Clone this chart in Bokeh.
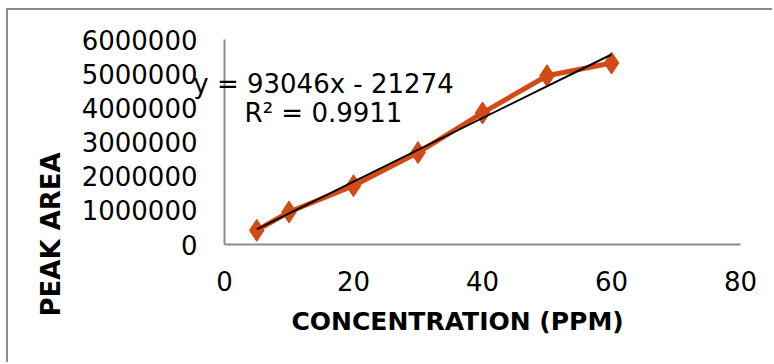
from bokeh.plotting import figure
from bokeh.models import Range1d, Label, FixedTicker, Title, NumeralTickFormatter
from bokeh.embed import file_html
from bokeh.resources import INLINE

# Data
concentration = [5, 10, 20, 30, 40, 50, 60]
peak_area = [414000, 950000, 1720000, 2690000, 3850000, 4940000, 5310000]
slope = 93046
intercept = -21274
r_squared = 0.9911
x_ticks = [0, 20, 40, 60, 80]
y_ticks = [0, 1000000, 2000000, 3000000, 4000000, 5000000, 6000000]
x_title = "CONCENTRATION (PPM)"
y_title = "PEAK AREA"

ORANGE = "#d24a15"
AXIS = "#8c8c8c"
FONT = "DejaVu Sans"

# page pixel mapping: x data 0 -> 224, 80 -> 740 ; y data 0 -> 244, 6e6 -> 39
def px_to_x(px):
    return (px - 224) * 80 / 516.0

def px_to_y(py):
    return (244 - py) * 6000000 / 205.0

# frame spans page x 74..766 and page y 20..300 so the axes' labels sit inside it
p = figure(width=766, height=354, output_backend="svg", toolbar_location=None,
           x_range=Range1d(px_to_x(74), px_to_x(766)),
           y_range=Range1d(px_to_y(300), px_to_y(20)),
           min_border_left=66, min_border_right=8, min_border_top=10, min_border_bottom=64)
p.styles = {"margin-left": "6px", "margin-top": "8px",
            "border-left": "2px solid " + AXIS, "border-top": "2px solid " + AXIS}
p.outline_line_color = None
p.grid.grid_line_color = None
p.background_fill_color = "white"
p.border_fill_color = "white"

for ax in (p.xaxis[0], p.yaxis[0]):
    ax.axis_line_color = AXIS
    ax.axis_line_width = 2
    ax.major_tick_line_color = None
    ax.minor_tick_line_color = None
    ax.major_label_text_font = FONT
    ax.major_label_text_font_size = "26px"
    ax.major_label_text_color = "black"

p.xaxis.ticker = FixedTicker(ticks=x_ticks)
p.xaxis.bounds = (0, 80)
p.xaxis.fixed_location = 0
p.xaxis.major_label_standoff = 20
p.yaxis.ticker = FixedTicker(ticks=y_ticks)
p.yaxis.formatter = NumeralTickFormatter(format="0")
p.yaxis.bounds = (0, 6000000)
p.yaxis.fixed_location = 0
p.yaxis.major_label_standoff = 21

# Series
p.line(concentration, peak_area, line_color=ORANGE, line_width=5)
p.scatter(concentration, peak_area, marker="diamond", size=22, fill_color=ORANGE,
          line_color=ORANGE)

# Linear trendline
tx = [min(concentration), max(concentration)]
ty = [slope * v + intercept for v in tx]
p.line(tx, ty, line_color="black", line_width=2)

eq1 = "y = %dx - %d" % (slope, -intercept)
eq2 = "R² = %.4f" % r_squared

p.add_layout(Label(x=px_to_x(323), y=px_to_y(83), text=eq1, text_align="center",
                   text_baseline="middle", text_font=FONT, text_font_size="26px",
                   text_color="black"))
p.add_layout(Label(x=px_to_x(323), y=px_to_y(112), text=eq2, text_align="center",
                   text_baseline="middle", text_font=FONT, text_font_size="26px",
                   text_color="black"))

p.add_layout(Title(text=x_title, align="left", offset=217, text_font=FONT,
                   text_font_size="25px", text_font_style="bold", text_color="black",
                   standoff=9), "below")
p.add_layout(Title(text=y_title, align="left", offset=-16, text_font=FONT,
                   text_font_size="26px", text_font_style="bold", text_color="black",
                   standoff=17), "left")

open("out.html", "w").write(file_html(p, INLINE))
